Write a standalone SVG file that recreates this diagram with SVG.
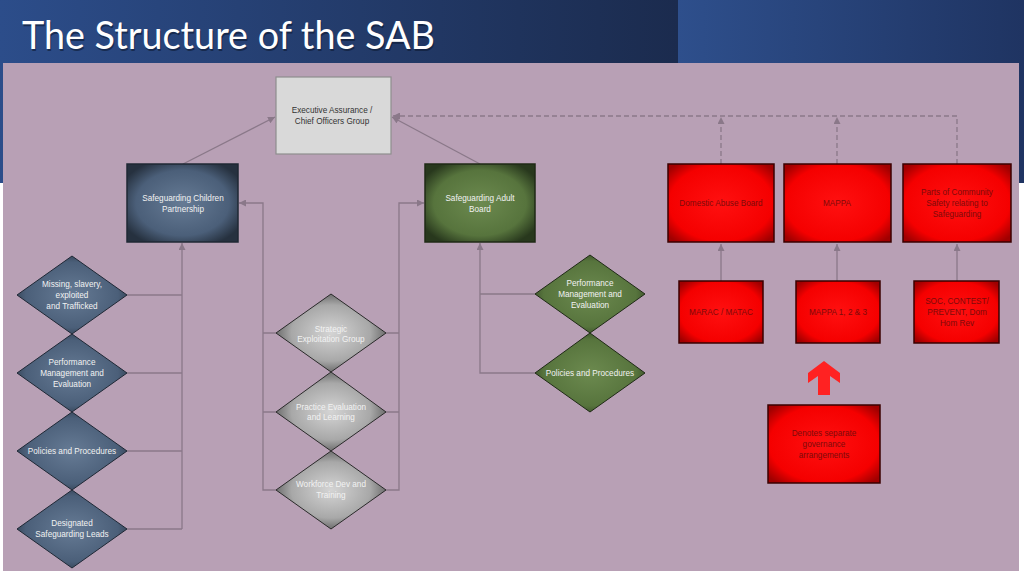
<svg xmlns="http://www.w3.org/2000/svg" width="1024" height="576" viewBox="0 0 1024 576">
<defs>
<linearGradient id="hdrL" x1="0" y1="0" x2="1" y2="0"><stop offset="0" stop-color="#2c4d8a"/><stop offset="1" stop-color="#1b2b4e"/></linearGradient>
<linearGradient id="hdrR" x1="0" y1="0" x2="1" y2="0"><stop offset="0" stop-color="#2e4f8c"/><stop offset="1" stop-color="#1f3462"/></linearGradient>
<radialGradient id="gBlue" cx="0.5" cy="0.5" r="0.6"><stop offset="0" stop-color="#667b95"/><stop offset="0.7" stop-color="#4b5f79"/><stop offset="1" stop-color="#26313f"/></radialGradient>
<radialGradient id="gGreen" cx="0.5" cy="0.5" r="0.6"><stop offset="0" stop-color="#6c8a4f"/><stop offset="0.7" stop-color="#57743d"/><stop offset="1" stop-color="#28381d"/></radialGradient>
<radialGradient id="gGray" cx="0.5" cy="0.5" r="0.6"><stop offset="0" stop-color="#d4d4d4"/><stop offset="0.6" stop-color="#a8a8a8"/><stop offset="1" stop-color="#444"/></radialGradient>
<radialGradient id="gRed" cx="0.5" cy="0.5" r="0.65"><stop offset="0" stop-color="#ff1010"/><stop offset="0.75" stop-color="#f50000"/><stop offset="1" stop-color="#a00000"/></radialGradient>
<marker id="ah" viewBox="0 0 8 8" refX="8" refY="4" markerWidth="7" markerHeight="7" markerUnits="userSpaceOnUse" orient="auto"><path d="M0,0 L8,4 L0,8 z" fill="#8a7889"/></marker>
<style>
.t{font-family:"Liberation Sans",Arial,sans-serif;font-size:8.2px;text-anchor:middle}
.w{fill:#f2f2f2}
.d{fill:#333}
.r{fill:#7d0a0a}
.c{fill:none;stroke:#8a7889;stroke-width:1.3}
.dash{fill:none;stroke:#8a7889;stroke-width:1.3;stroke-dasharray:5,3}
.bx{stroke-width:1.5}
</style>
</defs>
<rect x="0" y="0" width="1024" height="576" fill="#ffffff"/>
<rect x="0" y="0" width="678" height="183" fill="url(#hdrL)"/>
<rect x="678" y="0" width="346" height="183" fill="url(#hdrR)"/>
<rect x="3" y="63" width="1016" height="508" fill="#b8a0b5"/>
<text x="23" y="51" font-family="Lato,'Open Sans',sans-serif" font-size="38" fill="#0d1a33" opacity="0.6" textLength="413" lengthAdjust="spacingAndGlyphs">The Structure of the SAB</text>
<text x="22" y="49" font-family="Lato,'Open Sans',sans-serif" font-size="38" fill="#ffffff" textLength="413" lengthAdjust="spacingAndGlyphs">The Structure of the SAB</text>

<g id="connectors">
<path class="c" d="M183,164 L275,117" marker-end="url(#ah)"/>
<path class="c" d="M480,164 L392,117" marker-end="url(#ah)"/>
<path class="dash" d="M957,164 V116 H393" marker-end="url(#ah)"/>
<path class="dash" d="M721,164 V117" marker-end="url(#ah)"/>
<path class="dash" d="M837,164 V117" marker-end="url(#ah)"/>
<path class="c" d="M721,281 V244" marker-end="url(#ah)"/>
<path class="c" d="M837,281 V244" marker-end="url(#ah)"/>
<path class="c" d="M957,281 V244" marker-end="url(#ah)"/>
<path class="c" d="M182,529 V243" marker-end="url(#ah)"/>
<path class="c" d="M127,295 H182 M127,373 H182 M127,451 H182 M127,529 H182"/>
<path class="c" d="M276,490 H263 V203 H239" marker-end="url(#ah)"/>
<path class="c" d="M276,333 H263 M276,412 H263"/>
<path class="c" d="M386,490 H399 V203 H424" marker-end="url(#ah)"/>
<path class="c" d="M386,333 H399 M386,412 H399"/>
<path class="c" d="M535,373 H480 V243" marker-end="url(#ah)"/>
<path class="c" d="M535,294 H480"/>
</g>

<g id="exec"><rect x="276" y="77" width="115" height="77" fill="#d9d9d9" stroke="#8e8e8e" stroke-width="1.2"/>
<text class="t d" x="332" y="113">Executive Assurance /</text><text class="t d" x="332" y="124">Chief Officers Group</text></g>

<g id="scp"><rect class="bx" x="127" y="164" width="111" height="78" fill="url(#gBlue)" stroke="#1f2835"/>
<text class="t w" x="183" y="201">Safeguarding Children</text><text class="t w" x="183" y="212">Partnership</text></g>

<g id="sab"><rect class="bx" x="425" y="164" width="110" height="78" fill="url(#gGreen)" stroke="#1f2a16"/>
<text class="t w" x="480" y="201">Safeguarding Adult</text><text class="t w" x="480" y="212">Board</text></g>

<g id="dab"><rect class="bx" x="668" y="164" width="106" height="78" fill="url(#gRed)" stroke="#3a0000"/>
<text class="t r" x="721" y="206">Domestic Abuse Board</text></g>
<g id="mappa"><rect class="bx" x="784" y="164" width="107" height="78" fill="url(#gRed)" stroke="#3a0000"/>
<text class="t r" x="837" y="206">MAPPA</text></g>
<g id="community"><rect class="bx" x="903" y="164" width="108" height="78" fill="url(#gRed)" stroke="#3a0000"/>
<text class="t r" x="957" y="195">Parts of Community</text><text class="t r" x="957" y="206">Safety relating to</text><text class="t r" x="957" y="217">Safeguarding</text></g>

<g id="marac"><rect class="bx" x="679" y="281" width="84" height="62" fill="url(#gRed)" stroke="#3a0000"/>
<text class="t r" x="721" y="315">MARAC / MATAC</text></g>
<g id="mappa123"><rect class="bx" x="796" y="281" width="84" height="62" fill="url(#gRed)" stroke="#3a0000"/>
<text class="t r" x="838" y="315">MAPPA 1, 2 &amp; 3</text></g>
<g id="soc"><rect class="bx" x="914" y="281" width="85" height="62" fill="url(#gRed)" stroke="#3a0000"/>
<text class="t r" x="957" y="304">SOC, CONTEST/</text><text class="t r" x="957" y="315">PREVENT, Dom</text><text class="t r" x="957" y="326">Hom Rev</text></g>

<g id="d-missing"><polygon points="72,256 127,295 72,334 17,295" fill="url(#gBlue)" stroke="#1f2835" stroke-width="1"/>
<text class="t w" x="72" y="287">Missing, slavery,</text><text class="t w" x="72" y="298">exploited</text><text class="t w" x="72" y="309">and Trafficked</text></g>
<g id="d-perf-c"><polygon points="72,334 127,373 72,412 17,373" fill="url(#gBlue)" stroke="#1f2835" stroke-width="1"/>
<text class="t w" x="72" y="365">Performance</text><text class="t w" x="72" y="376">Management and</text><text class="t w" x="72" y="387">Evaluation</text></g>
<g id="d-pol-c"><polygon points="72,412 127,451 72,490 17,451" fill="url(#gBlue)" stroke="#1f2835" stroke-width="1"/>
<text class="t w" x="72" y="454">Policies and Procedures</text></g>
<g id="d-dsl"><polygon points="72,490 127,529 72,568 17,529" fill="url(#gBlue)" stroke="#1f2835" stroke-width="1"/>
<text class="t w" x="72" y="526">Designated</text><text class="t w" x="72" y="537">Safeguarding Leads</text></g>

<g id="d-seg"><polygon points="331,294 386,333 331,372 276,333" fill="url(#gGray)" stroke="#2a2a2a" stroke-width="1"/>
<text class="t w" x="331" y="332">Strategic</text><text class="t w" x="331" y="342">Exploitation Group</text></g>
<g id="d-pel"><polygon points="331,372 386,412 331,451 276,412" fill="url(#gGray)" stroke="#2a2a2a" stroke-width="1"/>
<text class="t w" x="331" y="410">Practice Evaluation</text><text class="t w" x="331" y="420">and Learning</text></g>
<g id="d-wdt"><polygon points="331,451 386,490 331,529 276,490" fill="url(#gGray)" stroke="#2a2a2a" stroke-width="1"/>
<text class="t w" x="331" y="487">Workforce Dev and</text><text class="t w" x="331" y="498">Training</text></g>

<g id="d-perf-a"><polygon points="590,255 645,294 590,333 535,294" fill="url(#gGreen)" stroke="#1f2a16" stroke-width="1"/>
<text class="t w" x="590" y="286">Performance</text><text class="t w" x="590" y="297">Management and</text><text class="t w" x="590" y="308">Evaluation</text></g>
<g id="d-pol-a"><polygon points="590,333 645,373 590,412 535,373" fill="url(#gGreen)" stroke="#1f2a16" stroke-width="1"/>
<text class="t w" x="590" y="376">Policies and Procedures</text></g>

<g id="legend">
<polygon points="824,361 840,373 840,383 830,376 830,395 818,395 818,376 808,383 808,373" fill="#ff2222"/>
<rect class="bx" x="768" y="405" width="112" height="78" fill="url(#gRed)" stroke="#3a0000"/>
<text class="t r" x="824" y="436">Denotes separate</text><text class="t r" x="824" y="447">governance</text><text class="t r" x="824" y="458">arrangements</text>
</g>
</svg>
